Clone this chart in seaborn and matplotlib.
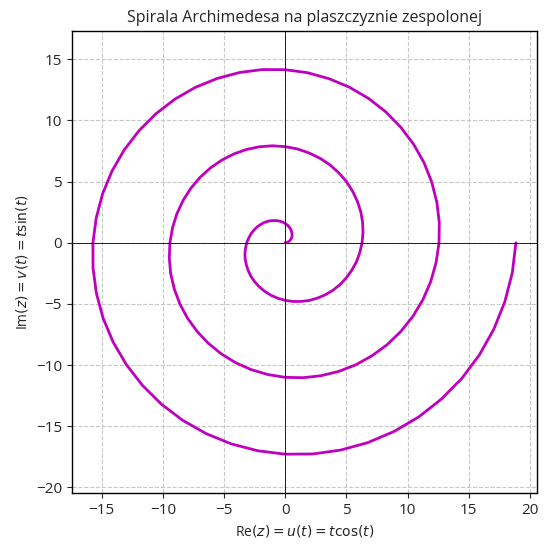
import matplotlib
matplotlib.use("Agg")
import matplotlib.pyplot as plt
import seaborn as sns
import pandas as pd

# points along the spiral, every 7.5 degrees of turn
re_vals = [
    0.00, 0.13, 0.25, 0.36, 0.45, 0.52, 0.56, 0.56, 0.52, 0.45, 0.34, 0.19,
    0.00, -0.22, -0.47, -0.75, -1.05, -1.35, -1.67, -1.97, -2.27, -2.54, -2.78, -2.98,
    -3.14, -3.24, -3.29, -3.27, -3.17, -3.01, -2.78, -2.47, -2.09, -1.65, -1.15, -0.60,
    0.00, 0.63, 1.29, 1.95, 2.62, 3.27, 3.89, 4.47, 4.99, 5.44, 5.82, 6.10,
    6.28, 6.36, 6.32, 6.17, 5.89, 5.50, 5.00, 4.38, 3.67, 2.86, 1.96, 1.01,
    0.00, -1.04, -2.10, -3.16, -4.19, -5.18, -6.11, -6.96, -7.71, -8.34, -8.85, -9.21,
    -9.42, -9.47, -9.36, -9.07, -8.62, -8.00, -7.22, -6.30, -5.24, -4.06, -2.78, -1.42,
    0.00, 1.45, 2.91, 4.36, 5.76, 7.09, 8.33, 9.45, 10.43, 11.25, 11.89, 12.33,
    12.57, 12.59, 12.39, 11.97, 11.34, 10.49, 9.44, 8.21, 6.81, 5.26, 3.59, 1.83,
    0.00, -1.86, -3.73, -5.56, -7.33, -9.00, -10.55, -11.94, -13.15, -14.15, -14.92, -15.44,
    -15.71, -15.70, -15.43, -14.88, -14.06, -12.98, -11.66, -10.12, -8.38, -6.46, -4.40, -2.24,
    0.00, 2.27, 4.54, 6.76, 8.90, 10.92, 12.77, 14.44, 15.87, 17.05, 17.95, 18.56,
    18.85,
]
im_vals = [
    0.00, 0.02, 0.07, 0.15, 0.26, 0.40, 0.56, 0.73, 0.91, 1.09, 1.26, 1.43,
    1.57, 1.69, 1.77, 1.81, 1.81, 1.77, 1.67, 1.51, 1.31, 1.05, 0.75, 0.39,
    0.00, -0.43, -0.88, -1.35, -1.83, -2.31, -2.78, -3.22, -3.63, -3.99, -4.30, -4.54,
    -4.71, -4.80, -4.80, -4.72, -4.53, -4.26, -3.89, -3.43, -2.88, -2.25, -1.56, -0.80,
    0.00, 0.84, 1.69, 2.55, 3.40, 4.22, 5.00, 5.71, 6.35, 6.89, 7.33, 7.66,
    7.85, 7.92, 7.84, 7.62, 7.26, 6.75, 6.11, 5.34, 4.45, 3.46, 2.37, 1.21,
    0.00, -1.25, -2.51, -3.76, -4.97, -6.14, -7.22, -8.20, -9.07, -9.80, -10.37, -10.77,
    -11.00, -11.03, -10.87, -10.52, -9.98, -9.24, -8.33, -7.25, -6.02, -4.66, -3.18, -1.62,
    0.00, 1.66, 3.32, 4.96, 6.55, 8.05, 9.44, 10.70, 11.79, 12.70, 13.40, 13.89,
    14.14, 14.15, 13.91, 13.42, 12.70, 11.74, 10.55, 9.16, 7.59, 5.86, 4.00, 2.03,
    0.00, -2.07, -4.13, -6.16, -8.12, -9.96, -11.66, -13.19, -14.51, -15.60, -16.44, -17.00,
    -17.28, -17.26, -16.94, -16.33, -15.42, -14.23, -12.77, -11.08, -9.16, -7.06, -4.81, -2.44,
    0.00,
]

df = pd.DataFrame({"re": re_vals, "im": im_vals})

sns.set_style("ticks")
plt.rcParams["font.family"] = ["Open Sans", "DejaVu Sans"]
plt.rcParams["mathtext.fontset"] = "dejavusans"
plt.rcParams["path.simplify"] = False

fig, ax = plt.subplots(figsize=(5.48, 5.49), dpi=100)
sns.lineplot(data=df, x="re", y="im", sort=False, estimator=None,
             color="m", linewidth=2, ax=ax)
ax.axhline(0, color="black", linewidth=0.6)
ax.axvline(0, color="black", linewidth=0.6)
ax.grid(True, linestyle="--", color="#c8c8c8", linewidth=0.8)
ax.set_aspect("equal", adjustable="datalim")
ax.set_title("Spirala Archimedesa na plaszczyznie zespolonej", fontsize=11.5)
ax.set_xlabel(r"Re$(z) = u(t) = t\cos(t)$", fontsize=10)
ax.set_ylabel(r"Im$(z) = v(t) = t\sin(t)$", fontsize=10)
ax.tick_params(labelsize=11)
for s in ax.spines.values():
    s.set_linewidth(1)
    s.set_color("black")

fig.subplots_adjust(left=0.131, right=0.98, top=0.944, bottom=0.102)
fig.savefig("out.png", dpi=100)
